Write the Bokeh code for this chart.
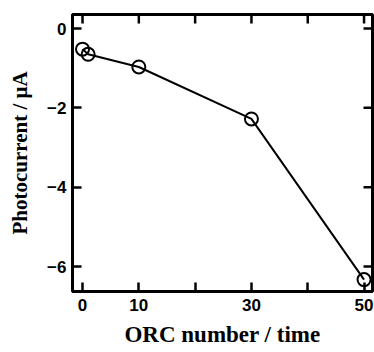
import math
from bokeh.plotting import figure
from bokeh.models import FixedTicker, Range1d
from bokeh.embed import file_html
from bokeh.resources import INLINE

orc = [0, 1, 10, 30, 50]
current = [-0.52, -0.65, -0.97, -2.28, -6.33]
x_ticks = [0, 10, 20, 30, 40, 50]
x_tick_labels = {20: "", 40: ""}
y_ticks = [-6, -4, -2, 0]
x_lo, x_hi = -1.78, 51.5
y_lo, y_hi = -6.63, 0.353

p = figure(frame_width=300, frame_height=277, x_range=Range1d(x_lo, x_hi), y_range=Range1d(y_lo, y_hi),
           output_backend="svg", toolbar_location=None, title=None,
           min_border_left=72, min_border_right=2, min_border_top=14, min_border_bottom=61)
p.xgrid.visible = False
p.ygrid.visible = False
p.outline_line_color = "black"
p.outline_line_width = 3
p.background_fill_color = "white"
p.border_fill_color = "white"

def style(ax, ticks):
    ax.ticker = FixedTicker(ticks=ticks)
    ax.axis_line_width = 2.5
    ax.axis_line_color = "black"
    ax.major_tick_in = 9
    ax.major_tick_out = 0
    ax.major_tick_line_width = 2.5
    ax.minor_tick_line_color = None
    ax.major_label_text_font = "Liberation Sans"
    ax.major_label_text_font_style = "bold"
    ax.major_label_text_font_size = "17px"
    ax.major_label_text_color = "black"
    ax.axis_label_text_font = "Liberation Serif"
    ax.axis_label_text_font_style = "bold"
    ax.axis_label_text_color = "black"

style(p.xaxis[0], x_ticks)
style(p.yaxis[0], y_ticks)
p.xaxis[0].major_label_overrides = x_tick_labels
p.xaxis[0].axis_label = "ORC number / time"
p.xaxis[0].axis_label_text_font_size = "23px"
p.xaxis[0].major_label_standoff = 7
p.xaxis[0].axis_label_standoff = 8
p.yaxis[0].axis_label = "Photocurrent / μA"
p.yaxis[0].axis_label_text_font_size = "21px"
p.yaxis[0].major_label_standoff = 6
p.yaxis[0].axis_label_standoff = 12

# mirrored ticks on the top and right edges (half of each dash is clipped by the frame)
p.scatter(x_ticks, [y_hi] * len(x_ticks), marker="dash", angle=math.pi / 2, size=18,
          line_color="black", line_width=2.5)
p.scatter([x_hi] * len(y_ticks), y_ticks, marker="dash", size=18,
          line_color="black", line_width=2.5)

p.line(orc, current, line_color="black", line_width=2)
p.scatter(orc, current, marker="circle", size=13, fill_color=None, line_color="black", line_width=2)

open("out.html", "w").write(file_html(p, INLINE))
